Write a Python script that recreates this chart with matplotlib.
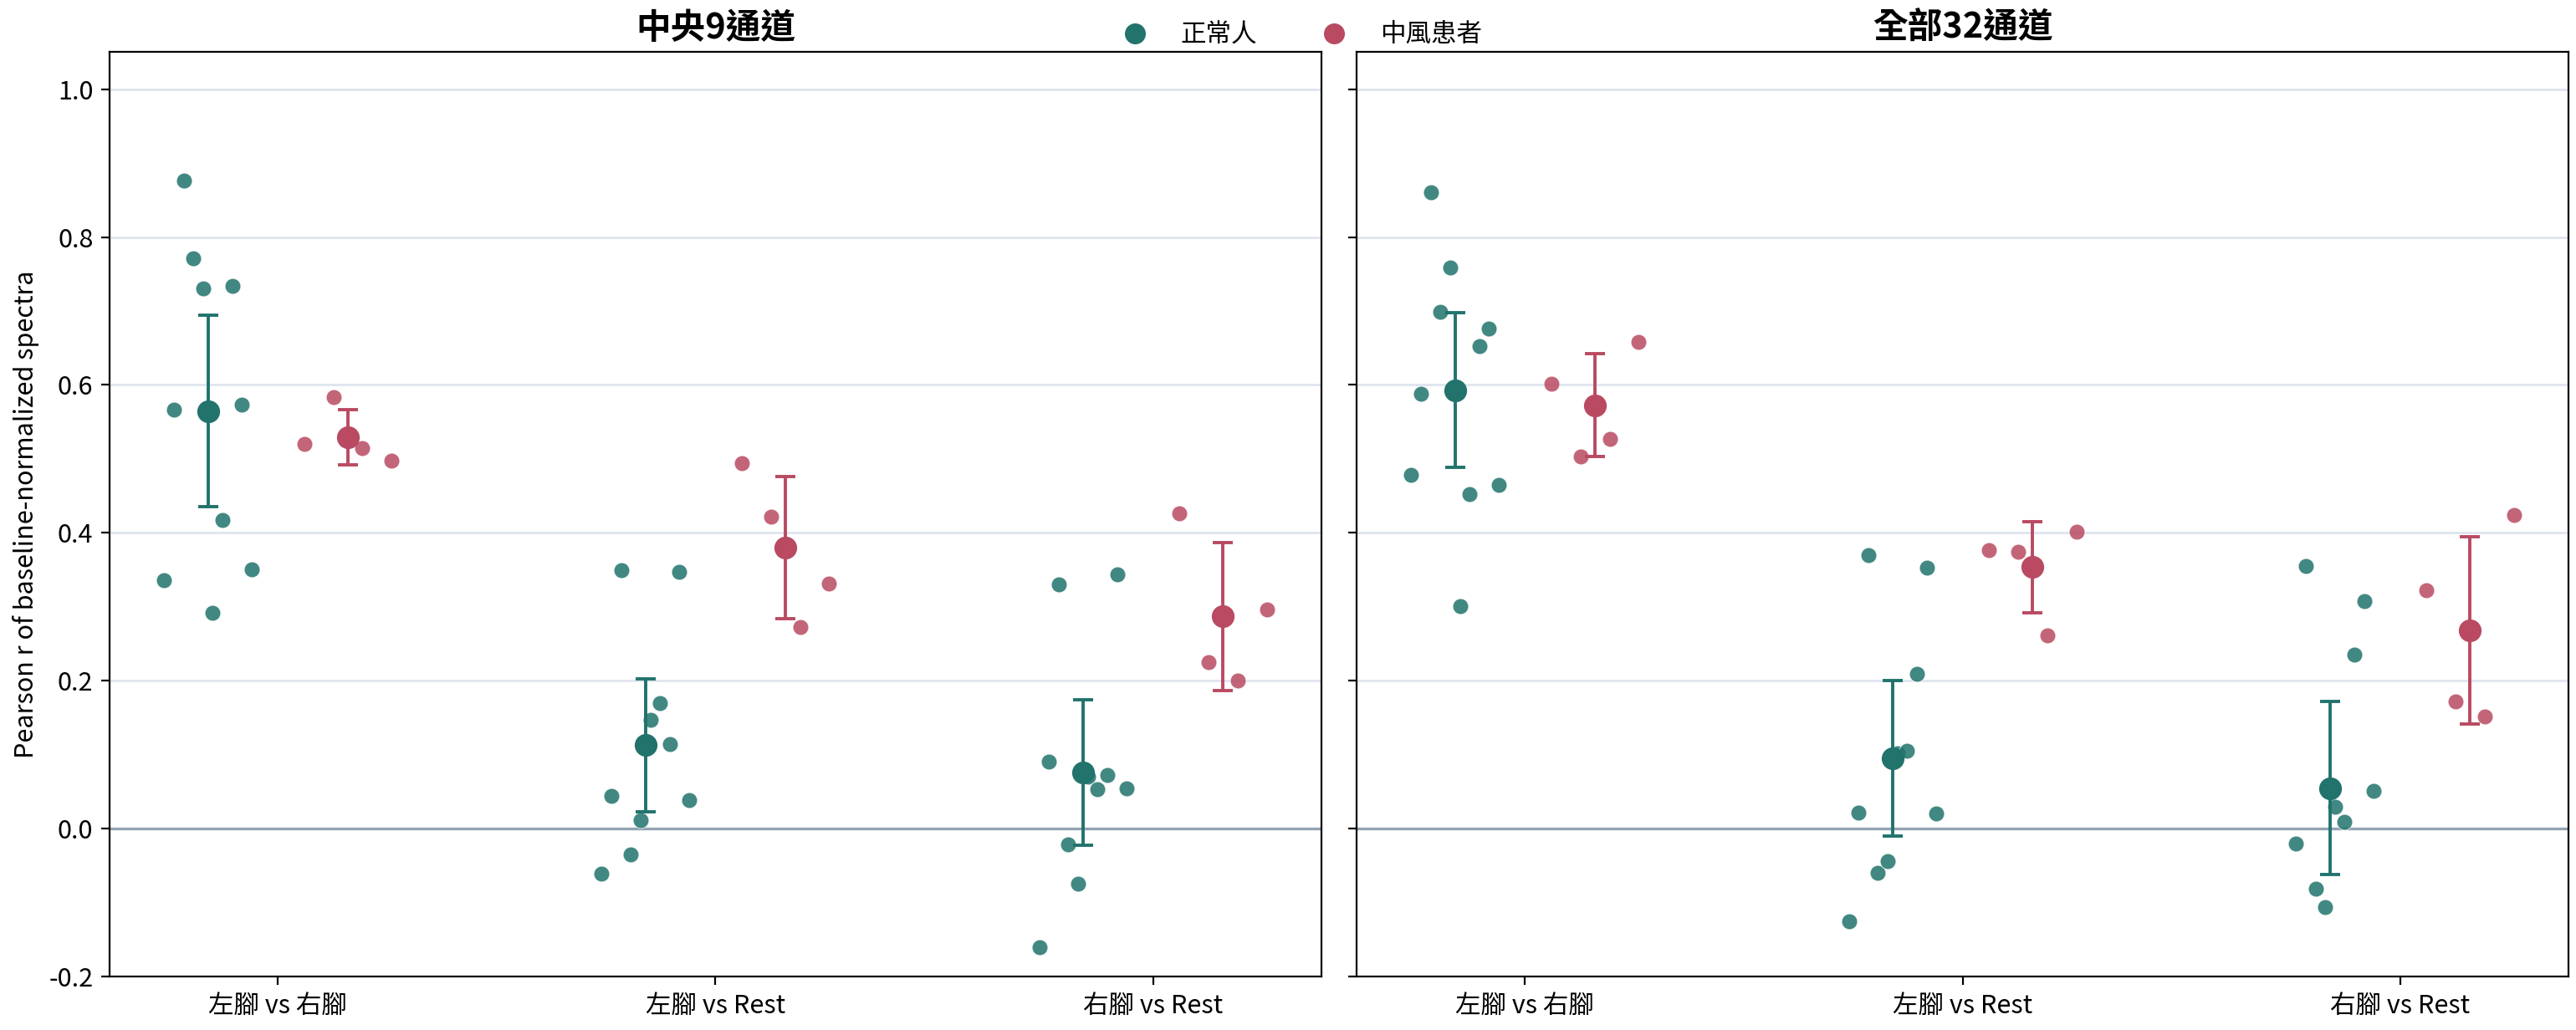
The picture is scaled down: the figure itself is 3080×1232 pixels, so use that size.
import numpy as np
import matplotlib
matplotlib.use("Agg")
import matplotlib.pyplot as plt
from matplotlib.lines import Line2D

plt.rcParams['font.family'] = ['Noto Sans CJK TC', 'DejaVu Sans']
plt.rcParams['axes.unicode_minus'] = False

categories = ["左腳 vs 右腳", "左腳 vs Rest", "右腳 vs Rest"]
groups = ["正常人", "中風患者"]
panel_titles = ["中央9通道", "全部32通道"]

# values per subject, same subject order in every category
# 中央9通道
healthy_c9 = [
    [0.336, 0.567, 0.876, 0.771, 0.731, 0.292, 0.417, 0.734, 0.573, 0.351],
    [-0.061, 0.045, 0.350, -0.035, 0.012, 0.147, 0.170, 0.115, 0.347, 0.039],
    [-0.160, 0.091, 0.330, -0.021, -0.074, 0.070, 0.053, 0.073, 0.344, 0.055],
]
stroke_c9 = [
    [0.520, 0.584, 0.515, 0.498],
    [0.494, 0.422, 0.273, 0.331],
    [0.427, 0.225, 0.200, 0.296],
]
# 全部32通道
healthy_all = [
    [0.478, 0.588, 0.861, 0.699, 0.759, 0.301, 0.453, 0.652, 0.676, 0.465],
    [-0.125, 0.022, 0.370, -0.060, -0.044, 0.102, 0.106, 0.210, 0.353, 0.021],
    [-0.232, -0.020, 0.355, -0.081, -0.106, 0.030, 0.009, 0.236, 0.308, 0.051],
]
stroke_all = [
    [0.602, 0.503, 0.527, 0.658],
    [0.377, 0.374, 0.262, 0.402],
    [0.323, 0.172, 0.152, 0.424],
]

colors = ["#21736c", "#b94a62"]
offsets = [-0.16, 0.16]

fig, axes = plt.subplots(1, 2, figsize=(15.4, 6.16), dpi=200, sharey=True)
fig.subplots_adjust(left=0.0425, right=0.9971, bottom=0.0517, top=0.9494, wspace=0.029)

panels = [(healthy_c9, stroke_c9), (healthy_all, stroke_all)]

for ax, title, (h, s) in zip(axes, panel_titles, panels):
    ax.yaxis.grid(True, color="#dfe5ef", lw=1.0)
    ax.set_axisbelow(True)
    ax.axhline(0, color="#94a3b3", lw=1.2, zorder=1)
    for gi, data in enumerate([h, s]):
        for ci, vals in enumerate(data):
            vals = np.array(vals)
            n = len(vals)
            spread = np.linspace(-0.1, 0.1, n)
            xc = ci + offsets[gi]
            ax.scatter(xc + spread, vals, s=46, color=colors[gi], alpha=0.85,
                       edgecolor="white", linewidth=0.3, zorder=3)
            m = vals.mean()
            ci95 = 1.96 * vals.std(ddof=1) / np.sqrt(n)
            ax.errorbar(xc, m, yerr=ci95, fmt="o", color=colors[gi], ms=8.8,
                        elinewidth=1.4, capsize=4.3, capthick=1.4, zorder=4)
    ax.set_xticks(range(len(categories)))
    ax.set_xticklabels(categories, fontsize=11)
    ax.set_xlim(-0.385, 2.385)
    ax.set_ylim(-0.2, 1.05)
    ax.set_yticks([-0.2, 0.0, 0.2, 0.4, 0.6, 0.8, 1.0])
    ax.tick_params(axis="y", labelsize=11)
    ax.set_title(title, fontsize=15, fontweight="bold")

axes[0].set_ylabel("Pearson r of baseline-normalized spectra", fontsize=11)

handles = [Line2D([], [], marker="o", ls="", color=c, ms=8) for c in colors]
fig.legend(handles, groups, loc="center", bbox_to_anchor=(0.503, 0.966), ncol=2,
           frameon=False, fontsize=11)

fig.savefig("out.png", dpi=200)
